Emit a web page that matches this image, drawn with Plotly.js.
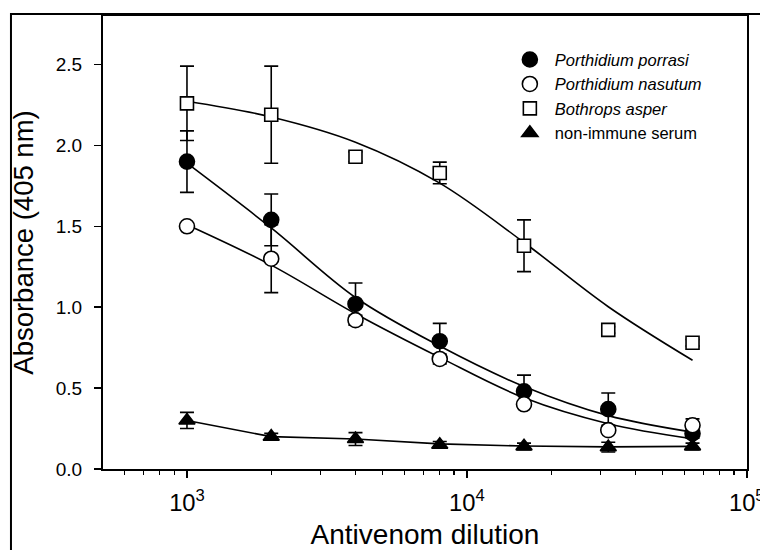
<!DOCTYPE html>
<html>
<head>
<meta charset="utf-8">
<script src="https://cdn.plot.ly/plotly-3.0.1.min.js"></script>
<style>html,body{margin:0;padding:0;background:#fff;}#chart{width:760px;height:550px;}</style>
</head>
<body>
<div id="chart"></div>
<script>
// Dilutions (x)
var dilution = [1000, 2000, 4000, 8000, 16000, 32000, 64000];

// Measured absorbance (mean) and error (SD)
var porrasiY   = [1.90, 1.54, 1.02, 0.79, 0.48, 0.37, 0.22];
var porrasiErr = [0.19, 0.16, 0.13, 0.11, 0.10, 0.10, 0.03];
var nasutumY   = [1.50, 1.30, 0.92, 0.68, 0.40, 0.24, 0.27];
var nasutumErr = [0.02, 0.21, 0.03, 0.03, 0.02, 0.02, 0.04];
var asperY     = [2.26, 2.19, 1.93, 1.83, 1.38, 0.86, 0.78];
var asperErr   = [0.23, 0.30, 0.03, 0.067, 0.16, 0.02, 0.02];
var serumY     = [0.30, 0.20, 0.185, 0.15, 0.14, 0.135, 0.14];
var serumErr   = [0.05, 0.02, 0.04, 0.02, 0.02, 0.03, 0.02];

// Fitted curves (at each dilution)
var porrasiFit = [1.89, 1.49, 1.06, 0.76, 0.51, 0.33, 0.228];
var nasutumFit = [1.51, 1.26, 0.96, 0.69, 0.44, 0.28, 0.187];
var asperFit   = [2.273, 2.176, 2.02, 1.767, 1.40, 1.003, 0.672];
var serumFit   = [0.30, 0.20, 0.185, 0.155, 0.142, 0.137, 0.14];

// Labels
var seriesNames = ["Porthidium porrasi", "Porthidium nasutum", "Bothrops asper", "non-immune serum"];
var xTitle = "Antivenom dilution";
var yTitle = "Absorbance (405 nm)";

var FONT = "Liberation Sans, Arial, Helvetica, sans-serif";

function fitLine(y, shape) {
  return {x: dilution, y: y, mode: "lines", showlegend: false, hoverinfo: "skip",
          line: {color: "#000", width: 1.6, shape: shape, smoothing: 1}};
}
function pts(name, y, err, symbol, fill, size) {
  return {x: dilution, y: y, mode: "markers", name: name,
          error_y: {type: "data", array: err, visible: true, color: "#000", thickness: 1.6, width: 7},
          marker: {symbol: symbol, size: size, color: fill, line: {color: "#000", width: 1.6}}};
}

var legendNames = seriesNames.map(function(n, i){ return i < 3 ? "<i>" + n + "</i>" : n; });

var data = [
  fitLine(asperFit, "spline"),
  fitLine(porrasiFit, "spline"),
  fitLine(nasutumFit, "spline"),
  fitLine(serumFit, "linear"),
  pts(legendNames[0], porrasiY, porrasiErr, "circle", "#000", 15),
  pts(legendNames[1], nasutumY, nasutumErr, "circle", "#fff", 15),
  pts(legendNames[2], asperY, asperErr, "square", "#fff", 13),
  pts(legendNames[3], serumY, serumErr, "triangle-up", "#000", 14)
];

var layout = {
  width: 760, height: 550,
  margin: {l: 103, r: 13, t: 16, b: 81, pad: 0},
  paper_bgcolor: "#fff", plot_bgcolor: "#fff",
  font: {family: FONT, color: "#000", size: 18},
  showlegend: true,
  legend: {x: 0.624, y: 0.942, xanchor: "left", yanchor: "top", bgcolor: "rgba(0,0,0,0)",
           borderwidth: 0, itemwidth: 40, font: {family: FONT, size: 16.5, color: "#000"}, tracegroupgap: 0},
  xaxis: {
    type: "log", range: [2.7, 5.0008], dtick: 1, exponentformat: "power",
    showgrid: false, zeroline: false,
    showline: true, linecolor: "#000", linewidth: 2, mirror: true,
    ticks: "outside", ticklen: 7, tickwidth: 1.5, tickcolor: "#000",
    minor: {ticks: "outside", ticklen: 4, tickwidth: 1.2, tickcolor: "#000", dtick: "D1", showgrid: false},
    tickfont: {family: FONT, size: 19, color: "#000"},
    ticklabelstandoff: 5, ticklabeloverflow: "allow",
    title: {text: xTitle, font: {family: FONT, size: 28, color: "#000"}, standoff: 17}
  },
  yaxis: {
    range: [0, 2.8], dtick: 0.5, tickformat: ".1f",
    showgrid: false, zeroline: false,
    showline: true, linecolor: "#000", linewidth: 2, mirror: true,
    ticks: "outside", ticklen: 7, tickwidth: 1.5, tickcolor: "#000",
    tickfont: {family: FONT, size: 19, color: "#000"},
    ticklabelstandoff: 8,
    title: {text: yTitle, font: {family: FONT, size: 27.5, color: "#000"}, standoff: 14}
  },
  shapes: [{
    type: "rect", xref: "paper", yref: "paper",
    x0: -0.1429, x1: 1.2, y0: -0.25, y1: 1.0044,
    line: {color: "#000", width: 2}, fillcolor: "rgba(0,0,0,0)", layer: "below"
  }]
};

Plotly.newPlot("chart", data, layout, {displayModeBar: false, staticPlot: true});
</script>
</body>
</html>
